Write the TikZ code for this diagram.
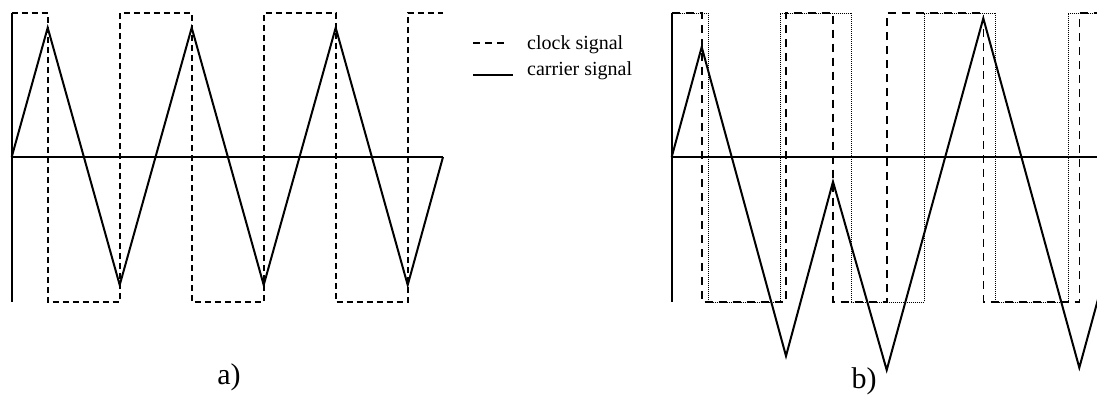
\documentclass[tikz,border=0pt]{standalone}
\usepackage{fontspec}
\setmainfont{Liberation Serif}
\begin{document}
\begin{tikzpicture}[x=1pt,y=-1pt,
  axis/.style={line width=2pt},
  carrier/.style={line width=2pt, line join=miter},
  clock/.style={line width=1.6pt, dash pattern=on 6pt off 4pt},
  clockb/.style={line width=1.6pt, dash pattern=on 8pt off 6pt},
  delayed/.style={line width=0.9pt, dash pattern=on 1pt off 1pt},
  legtext/.style={font=\fontsize{20}{24}\selectfont, inner sep=0pt, anchor=base west},
  lbl/.style={font=\fontsize{30}{34}\selectfont, inner sep=0pt}]
\useasboundingbox (0,0) rectangle (1097,396);
\begin{scope}
\clip (0,0) rectangle (1097,396);
% ---------- panel a ----------
\coordinate (a0) at (11.7,157);
\coordinate (aend) at (443,157);
\draw[axis] (11.7,13) -- (11.7,302);
\draw[axis] (a0) -- (aend);
\draw[clock] (11.7,13) -- (47.7,13) -- (47.7,302) -- (119.7,302) -- (119.7,13) -- (191.7,13) -- (191.7,302) -- (263.7,302) -- (263.7,13) -- (335.7,13) -- (335.7,302) -- (407.7,302) -- (407.7,13) -- (443,13);
\draw[carrier] (a0) -- (47.7,27.7) -- (119.7,285) -- (191.7,27.7) -- (263.7,285) -- (335.7,27.7) -- (407.7,285) -- (aend);
% legend
\coordinate (l1a) at (473,43);
\coordinate (l1b) at (508,43);
\coordinate (l2a) at (473,75);
\coordinate (l2b) at (513,75);
\draw[line width=1.6pt, dash pattern=on 7pt off 5pt] (l1a) -- (l1b);
\draw[line width=1.6pt] (l2a) -- (l2b);
\node[legtext] (lclock) at (527,50) {clock signal};
\node[legtext] (lcarrier) at (527,75) {carrier signal};
\node[lbl] (la) at (229,377) {a)};
% ---------- panel b ----------
\coordinate (b0) at (671.7,157);
\coordinate (bend) at (1100,157);
\draw[axis] (671.7,13) -- (671.7,302);
\draw[axis] (b0) -- (bend);
\draw[delayed] (671.7,13) -- (708,13) -- (708,302) -- (780,302) -- (780,13) -- (851.7,13) -- (851.7,302) -- (924,302) -- (924,13) -- (995.7,13) -- (995.7,302) -- (1068,302) -- (1068,13) -- (1100,13);
\draw[clockb] (671.7,13) -- (701.7,13) -- (701.7,302) -- (786,302) -- (786,13) -- (833,13) -- (833,302) -- (886.7,302) -- (886.7,13) -- (983.3,13) -- (983.3,302) -- (1079.3,302) -- (1079.3,13) -- (1100,13);
\draw[carrier] (b0) -- (701.7,47) -- (786,356) -- (833,181.7) -- (886.7,370) -- (983.3,18.3) -- (1079.3,367.7) -- (1100,292);
\node[lbl] (lb) at (864,381) {b)};
\end{scope}
\end{tikzpicture}
\end{document}
